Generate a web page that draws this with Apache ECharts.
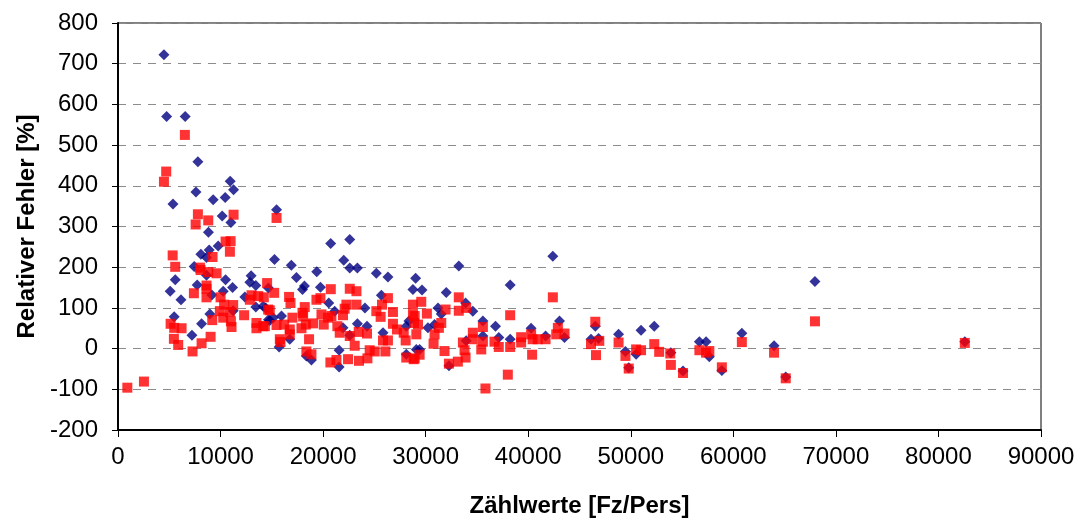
<!DOCTYPE html>
<html>
<head>
<meta charset="utf-8">
<title>Relativer Fehler</title>
<script src="https://cdn.jsdelivr.net/npm/echarts@6/dist/echarts.min.js"></script>
<style>
  html, body { margin: 0; padding: 0; background: #fff; }
  #chart { width: 1083px; height: 523px; }
</style>
</head>
<body>
<div id="chart"></div>
<script>
// Axis ranges and tick steps
const xTicks = { min: 0, max: 90000, step: 10000 };
const yTicks = { min: -200, max: 800, step: 100 };

const xAxisTitle = 'Zählwerte [Fz/Pers]';
const yAxisTitle = 'Relativer Fehler [%]';

// Reihe 1 (blaue Rauten): [Zählwert, relativer Fehler %]
const reihe1 = [
  [4480, 722], [4740, 570], [6550, 570], [7790, 459], [10940, 411], [11270, 390],
  [7600, 385], [10450, 371], [9280, 366], [5360, 355], [10160, 326], [11010, 310],
  [8820, 286], [9770, 252], [8890, 242], [8080, 232], [8630, 224], [7430, 202],
  [8630, 180], [5580, 169], [10490, 169], [12980, 179], [12860, 163], [13440, 155],
  [7720, 156], [11170, 150], [5090, 141], [10260, 141], [9150, 132], [6140, 120],
  [12370, 127], [13440, 102], [11230, 93], [8960, 85], [5480, 78], [8150, 61],
  [7210, 33], [14670, 149], [14670, 71], [15460, 341], [20740, 258], [22600, 268],
  [15260, 219], [16900, 205], [22010, 217], [22600, 198], [23340, 198], [25190, 185],
  [26320, 176], [29020, 173], [17400, 175], [19380, 189], [18180, 154], [17990, 145],
  [19740, 151], [28760, 145], [25680, 131], [20550, 112], [24080, 100], [14410, 100],
  [14150, 104], [14800, 69], [21130, 92], [21940, 51], [23340, 61], [24280, 55],
  [22600, 33], [25840, 39], [28110, 55], [28370, 68], [15710, 4], [16750, 23],
  [18860, -28], [18370, -18], [21560, -4], [21560, -45], [29090, -2], [28110, -14],
  [15130, 76], [15940, 80], [42400, 227], [33230, 203], [38240, 156], [29640, 144],
  [32010, 138], [33890, 112], [34600, 92], [31200, 100], [31520, 85], [30220, 51],
  [30870, 59], [35580, 68], [36810, 55], [35580, 31], [33950, 19], [32270, -42],
  [29410, -2], [37130, 27], [38240, 23], [40280, 50], [41690, 31], [43050, 68],
  [43540, 27], [46540, 55], [46120, 23], [46860, 25], [48810, 35], [49480, -7],
  [51000, 45], [50520, -14], [52290, 55], [53910, -10], [56690, 17], [57340, 17],
  [57660, -20], [58880, -54], [60830, 38], [63970, 7], [67960, 165], [82570, 17],
  [65110, -70], [55090, -55], [49800, -47]
];

// Reihe 2 (rote Quadrate): [Zählwert, relativer Fehler %]
const reihe2 = [
  [6520, 525], [4700, 435], [4480, 410], [7790, 330], [11270, 329], [8800, 315],
  [7570, 305], [10490, 263], [10980, 264], [10910, 238], [9220, 225], [5330, 229],
  [5580, 201], [7990, 199], [8050, 193], [8800, 188], [9610, 185], [14540, 161],
  [8630, 155], [8630, 147], [7400, 136], [8630, 126], [10000, 126], [13020, 131],
  [13670, 129], [14220, 126], [12860, 120], [10350, 108], [11230, 107], [14640, 96],
  [9930, 92], [10910, 90], [12300, 82], [10260, 76], [9190, 70], [11010, 67],
  [13500, 63], [5130, 61], [11070, 53], [13500, 50], [14320, 55], [5480, 51],
  [6200, 50], [9030, 29], [5450, 24], [8150, 13], [5870, 9], [7270, -7],
  [910, -96], [2530, -81], [15460, 321], [20750, 146], [22600, 147], [23250, 141],
  [15230, 137], [26320, 124], [16680, 127], [16820, 112], [19350, 120], [19740, 124],
  [23250, 108], [22270, 108], [28760, 108], [18210, 102], [17990, 88], [22100, 98],
  [21940, 82], [25190, 92], [25740, 108], [25610, 78], [26810, 90], [14800, 94],
  [14150, 55], [15460, 58], [16200, 59], [17010, 76], [18050, 79], [18310, 59],
  [16750, 47], [16750, 35], [17890, 50], [19020, 62], [19840, 84], [20060, 59],
  [20480, 76], [20810, 80], [21390, 55], [21620, 39], [23470, 41], [24280, 37],
  [25840, 20], [26320, 20], [26810, 61], [27200, 47], [27860, 39], [28050, 20],
  [28760, 84], [28860, 63], [29090, 35], [15780, 23], [15840, 16], [18630, 23],
  [18370, -7], [18860, -14], [22600, 31], [23080, 7], [20710, -34], [21300, -28],
  [22430, -26], [23500, -30], [24320, -24], [24540, -4], [25030, -7], [26070, -7],
  [28110, -22], [28930, -24], [42400, 126], [33230, 126], [33230, 93], [33950, 100],
  [31940, 96], [29570, 115], [28930, 80], [30120, 86], [38240, 82], [29250, 59],
  [31520, 63], [31290, 51], [30870, 35], [30770, 12], [35580, 53], [34600, 39],
  [34600, 23], [33630, 15], [33790, -4], [33890, -22], [31840, -6], [32270, -37],
  [33140, -32], [28830, -26], [29410, -15], [35580, 17], [35420, -2], [36710, 17],
  [37130, 4], [38240, 4], [35830, -98], [38010, -64], [39310, 28], [39310, 15],
  [40280, 35], [40430, 23], [40380, -15], [40930, 23], [41690, 23], [42890, 51],
  [42730, 35], [43540, 37], [46540, 66], [46120, 11], [46930, 19], [46610, -16],
  [48810, 15], [49480, -18], [49800, -49], [50520, -2], [51000, -4], [52290, 11],
  [52770, -8], [53850, -12], [53910, -40], [55090, -60], [56690, -4], [57340, -10],
  [57660, -6], [58880, -46], [60830, 16], [63970, -10], [65110, -73], [67960, 67],
  [82570, 14]
];

const FONT = '"Liberation Sans", Arial, Helvetica, sans-serif';

const chart = echarts.init(document.getElementById('chart'), null, { renderer: 'canvas' });

chart.setOption({
  backgroundColor: '#ffffff',
  animation: false,
  grid: {
    left: 118, top: 23, right: 42, bottom: 91,
    show: true, borderColor: '#000000', borderWidth: 1, backgroundColor: '#ffffff'
  },
  xAxis: {
    type: 'value',
    min: xTicks.min, max: xTicks.max, interval: xTicks.step,
    name: xAxisTitle, nameLocation: 'middle', nameGap: 64,
    nameTextStyle: { fontFamily: FONT, fontSize: 24, fontWeight: 'bold', color: '#000' },
    axisLine: { show: true, onZero: false, lineStyle: { color: '#000', width: 2 } },
    axisTick: { show: true, length: 7, lineStyle: { color: '#000', width: 1 } },
    axisLabel: {
      fontFamily: FONT, fontSize: 24, color: '#000', margin: 15,
      formatter: (v) => String(v)
    },
    splitLine: { show: false }
  },
  yAxis: {
    type: 'value',
    min: yTicks.min, max: yTicks.max, interval: yTicks.step,
    name: yAxisTitle, nameLocation: 'middle', nameGap: 78, nameRotate: 90,
    nameTextStyle: { fontFamily: FONT, fontSize: 24, fontWeight: 'bold', color: '#000' },
    axisLine: { show: true, onZero: false, lineStyle: { color: '#000', width: 2 } },
    axisTick: { show: true, length: 6, lineStyle: { color: '#000', width: 1 } },
    axisLabel: {
      fontFamily: FONT, fontSize: 24, color: '#000', margin: 20,
      formatter: (v) => String(v)
    },
    splitLine: { show: true, lineStyle: { color: '#8c8c8c', width: 1, type: [8, 7] } }
  },
  series: [
    {
      name: 'Reihe 1', type: 'scatter', data: reihe1,
      symbol: 'diamond', symbolSize: 11,
      itemStyle: { color: '#000080' }
    },
    {
      name: 'Reihe 2', type: 'scatter', data: reihe2,
      symbol: 'rect', symbolSize: 10,
      itemStyle: { color: '#ff0000' }
    }
  ]
});
</script>
</body>
</html>
